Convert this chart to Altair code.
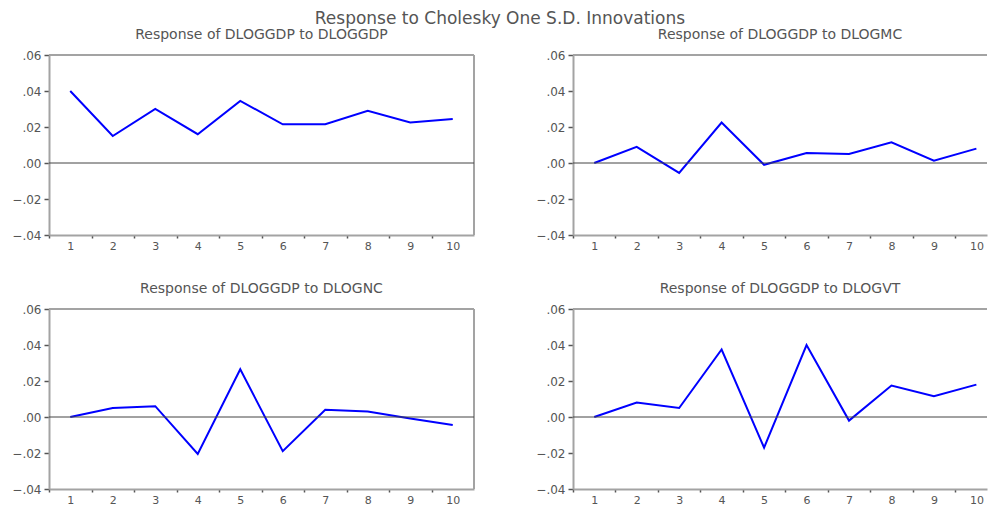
import altair as alt
import pandas as pd

# ---- data ----
periods = [1, 2, 3, 4, 5, 6, 7, 8, 9, 10]
resp_gdp = [0.040, 0.015, 0.030, 0.016, 0.0345, 0.0215, 0.0215, 0.029, 0.0225, 0.0245]
resp_mc = [0.0, 0.009, -0.0055, 0.0225, -0.001, 0.0055, 0.005, 0.0115, 0.0013, 0.008]
resp_nc = [0.0, 0.005, 0.006, -0.0205, 0.0265, -0.019, 0.004, 0.003, -0.0008, -0.0045]
resp_vt = [0.0, 0.008, 0.005, 0.0375, -0.017, 0.040, -0.002, 0.0175, 0.0115, 0.018]
panel_titles = [
    "Response of DLOGGDP to DLOGGDP",
    "Response of DLOGGDP to DLOGMC",
    "Response of DLOGGDP to DLOGNC",
    "Response of DLOGGDP to DLOGVT",
]
y_ticks = [-0.04, -0.02, 0.0, 0.02, 0.04, 0.06]
zero_ref = [0.0]
main_title = "Response to Cholesky One S.D. Innovations"

FONT = "DejaVu Sans"
TEXT = "#555555"
FRAME = "#a3a3a3"
TICK = "#555555"
PH = 180


def panel(values, title, width, xmax, right_border):
    df = pd.DataFrame({"period": periods, "response": values})
    half = width / (xmax - 0.5) / 2.0
    xs = alt.Scale(domain=[0.5, xmax], nice=False, zero=False)
    ys = alt.Scale(domain=[y_ticks[0], y_ticks[-1]], nice=False, zero=False)
    x_axis = alt.Axis(values=periods, title=None, grid=False, domainColor=FRAME, domainWidth=2,
                      tickColor=TICK, tickSize=3, tickWidth=1.5, tickOffset=-half, labelOffset=half,
                      labelPadding=2, labelFont=FONT, labelFontSize=11, labelColor=TEXT,
                      labelFlush=False, labelOverlap=False)
    y_axis = alt.Axis(values=y_ticks, title=None, grid=False, domainColor=FRAME, domainWidth=2,
                      tickColor=TICK, tickSize=5, tickWidth=1.5, labelPadding=3,
                      labelExpr="replace(format(datum.value, '.2f'), '0.', '.')",
                      labelFont=FONT, labelFontSize=12, labelColor=TEXT,
                      labelFlush=False, labelOverlap=False, labelBound=False)
    one = pd.DataFrame({"ref": zero_ref})
    top = alt.Chart(one).mark_rule(color=FRAME, strokeWidth=2).encode(
        x=alt.value(0), x2=alt.value(width), y=alt.value(0))
    layers = [top]
    if right_border:
        layers.append(alt.Chart(one).mark_rule(color=FRAME, strokeWidth=2).encode(
            x=alt.value(width), y=alt.value(0), y2=alt.value(PH)))
    line = alt.Chart(df).mark_line(color="#0000ff", strokeWidth=2).encode(
        x=alt.X("period:Q", scale=xs, axis=x_axis),
        y=alt.Y("response:Q", scale=ys, axis=y_axis))
    zero = alt.Chart(one).mark_rule(color="#444444", strokeWidth=1).encode(
        y=alt.Y("ref:Q", scale=ys, axis=y_axis))
    layers += [line, zero]
    return alt.layer(*layers).properties(
        width=width, height=PH,
        title=alt.TitleParams(title, font=FONT, fontSize=14, color=TEXT, fontWeight="normal",
                              anchor="middle", offset=7),
    )


p1 = panel(resp_gdp, panel_titles[0], 425, 10.5, True)
p2 = panel(resp_mc, panel_titles[1], 414, 10.25, False)
p3 = panel(resp_nc, panel_titles[2], 425, 10.5, True)
p4 = panel(resp_vt, panel_titles[3], 414, 10.25, False)

chart = alt.concat(
    p1, p2, p3, p4, columns=2, spacing=alt.RowColnumber(row=74, column=99), bounds="flush"
).properties(
    title=alt.TitleParams(main_title, font=FONT, fontSize=17, color=TEXT, fontWeight="normal",
                          anchor="middle", offset=0),
    padding={"left": 3, "top": 2, "right": 0, "bottom": 0},
).configure_view(stroke=None)

chart.save("out.html", embed_options={"renderer": "svg", "actions": False})
